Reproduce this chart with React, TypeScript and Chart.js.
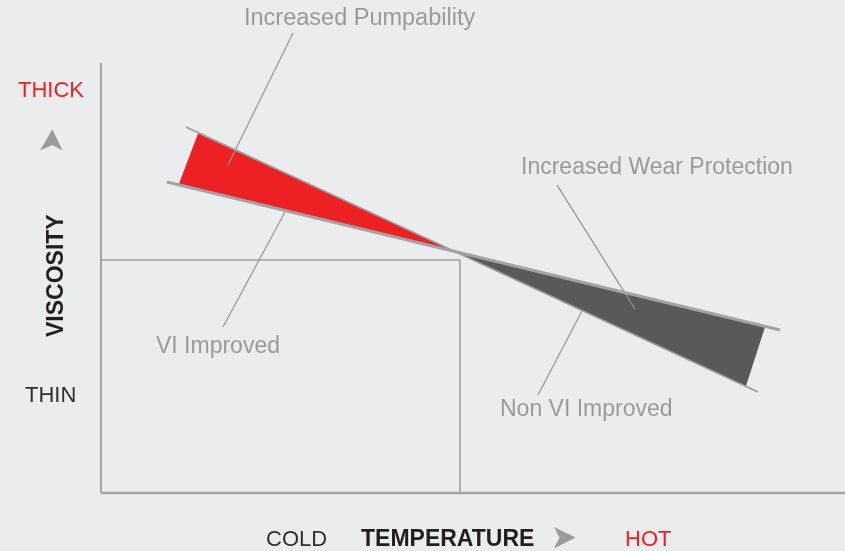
import React, { useEffect, useRef } from 'react';
import { Chart, registerables } from 'chart.js';

Chart.register(...registerables);

// Axes are in abstract units: temperature 0..100 (cold -> hot), viscosity 0..100 (thin -> thick)
const viImprovedLine = [
  { x: 8.87, y: 72.33 },
  { x: 91.26, y: 37.91 },
];
const nonViImprovedLine = [
  { x: 11.42, y: 85.12 },
  { x: 88.31, y: 23.49 },
];
const pumpabilityWedge = [
  { x: 13.04, y: 83.6 },
  { x: 10.48, y: 71.9 },
  { x: 47.6, y: 56.15 },
  { x: 13.04, y: 83.6 },
];
const wearWedge = [
  { x: 47.6, y: 56.15 },
  { x: 89.25, y: 38.6 },
  { x: 86.69, y: 24.9 },
  { x: 47.6, y: 56.15 },
];
const verticalAxis = [
  { x: 0, y: 0 },
  { x: 0, y: 100 },
];
const horizontalAxis = [
  { x: 0, y: 0 },
  { x: 100, y: 0 },
];
const referenceBox = [
  { x: 0, y: 54.19 },
  { x: 48.25, y: 54.19 },
  { x: 48.25, y: 0 },
];
const pumpLeader = [
  { x: 25.81, y: 106.98 },
  { x: 17.07, y: 76.28 },
];
const viLeader = [
  { x: 24.73, y: 65.35 },
  { x: 16.4, y: 38.6 },
];
const wearLeader = [
  { x: 61.29, y: 71.63 },
  { x: 71.77, y: 42.79 },
];
const nonViLeader = [
  { x: 64.65, y: 42.33 },
  { x: 58.74, y: 22.79 },
];

const calloutLabels = ['Increased Pumpability', 'VI Improved', 'Increased Wear Protection', 'Non VI Improved'];
const axisWords = ['THICK', 'THIN', 'VISCOSITY', 'COLD', 'TEMPERATURE', 'HOT'];

const BG = '#ebecee';
const GRAY_TEXT = '#9a9a9a';
const RED = '#ed2024';
const DARK = '#58595b';
const FONT = '"Liberation Sans", Arial, Helvetica, sans-serif';

const textPlugin = {
  id: 'textPlugin',
  beforeDraw(chart: any) {
    const ctx = chart.ctx;
    ctx.save();
    ctx.fillStyle = BG;
    ctx.fillRect(0, 0, chart.width, chart.height);
    ctx.restore();
  },
  afterDraw(chart: any) {
    const ctx = chart.ctx;
    ctx.save();
    ctx.textAlign = 'left';
    ctx.textBaseline = 'alphabetic';

    // callouts
    ctx.fillStyle = GRAY_TEXT;
    ctx.font = `23.5px ${FONT}`;
    ctx.fillText(calloutLabels[0], 244, 25);
    ctx.font = `23px ${FONT}`;
    ctx.fillText(calloutLabels[1], 156, 353);
    ctx.fillText(calloutLabels[2], 521, 174);
    ctx.fillText(calloutLabels[3], 500, 416);

    // vertical axis words
    ctx.font = `22px ${FONT}`;
    ctx.fillStyle = RED;
    ctx.fillText(axisWords[0], 18, 96.5);
    ctx.fillStyle = '#2f2f2f';
    ctx.fillText(axisWords[1], 25, 402);

    ctx.save();
    ctx.translate(63, 337);
    ctx.rotate(-Math.PI / 2);
    ctx.font = `bold 23px ${FONT}`;
    ctx.fillStyle = '#231f20';
    ctx.fillText(axisWords[2], 0, 0);
    ctx.restore();

    // horizontal axis words
    ctx.font = `22px ${FONT}`;
    ctx.fillStyle = '#2f2f2f';
    ctx.fillText(axisWords[3], 266, 546);
    ctx.font = `bold 23px ${FONT}`;
    ctx.fillStyle = '#231f20';
    ctx.fillText(axisWords[4], 361, 546);
    ctx.font = `22px ${FONT}`;
    ctx.fillStyle = RED;
    ctx.fillText(axisWords[5], 625, 546);

    // arrows
    ctx.fillStyle = '#9b9b9c';
    ctx.beginPath();
    ctx.moveTo(52.3, 129.3);
    ctx.lineTo(62.7, 150.5);
    ctx.lineTo(52.3, 145);
    ctx.lineTo(40, 150.5);
    ctx.closePath();
    ctx.fill();

    ctx.beginPath();
    ctx.moveTo(575.5, 537.5);
    ctx.lineTo(554, 527);
    ctx.lineTo(559.5, 537.5);
    ctx.lineTo(554, 548.5);
    ctx.closePath();
    ctx.fill();

    ctx.restore();
  },
};

function lineSet(data: any[], color: string, width: number, order: number) {
  return {
    data,
    borderColor: color,
    borderWidth: width,
    pointRadius: 0,
    pointHoverRadius: 0,
    fill: false,
    tension: 0,
    clip: false as any,
    order,
  };
}

export default function App() {
  const canvasRef = useRef<HTMLCanvasElement | null>(null);

  useEffect(() => {
    if (!canvasRef.current) return;
    const chart = new Chart(canvasRef.current, {
      type: 'line',
      data: {
        datasets: [
          {
            data: pumpabilityWedge,
            borderWidth: 0,
            borderColor: RED,
            backgroundColor: RED,
            pointRadius: 0,
            fill: 'shape',
            tension: 0,
            order: 10,
          } as any,
          {
            data: wearWedge,
            borderWidth: 0,
            borderColor: DARK,
            backgroundColor: DARK,
            pointRadius: 0,
            fill: 'shape',
            tension: 0,
            order: 10,
          } as any,
          lineSet(verticalAxis, '#a4a4a5', 2, 5),
          lineSet(horizontalAxis, '#a4a4a5', 2.5, 5),
          lineSet(referenceBox, '#9e9e9f', 1.6, 5),
          lineSet(pumpLeader, '#999a9b', 1.3, 4),
          lineSet(viLeader, '#999a9b', 1.3, 4),
          lineSet(wearLeader, '#8e8f90', 1.3, 4),
          lineSet(nonViLeader, '#999a9b', 1.3, 4),
          lineSet(nonViImprovedLine, '#9a9a9b', 1.6, 2),
          lineSet(viImprovedLine, '#a3a3a4', 3, 1),
        ],
      },
      options: {
        responsive: false,
        animation: false,
        devicePixelRatio: 1,
        events: [],
        layout: { padding: { left: 101, right: 0, top: 63, bottom: 58 } },
        plugins: {
          legend: { display: false },
          tooltip: { enabled: false },
          title: { display: false },
        },
        scales: {
          x: { type: 'linear', min: 0, max: 100, display: false },
          y: { type: 'linear', min: 0, max: 100, display: false },
        },
      },
      plugins: [textPlugin],
    });
    return () => chart.destroy();
  }, []);

  return (
    <div
      style={{
        position: 'fixed',
        left: 0,
        top: 0,
        width: 845,
        height: 551,
        background: BG,
        overflow: 'hidden',
      }}
    >
      <canvas ref={canvasRef} width={845} height={551} style={{ display: 'block' }} />
    </div>
  );
}
